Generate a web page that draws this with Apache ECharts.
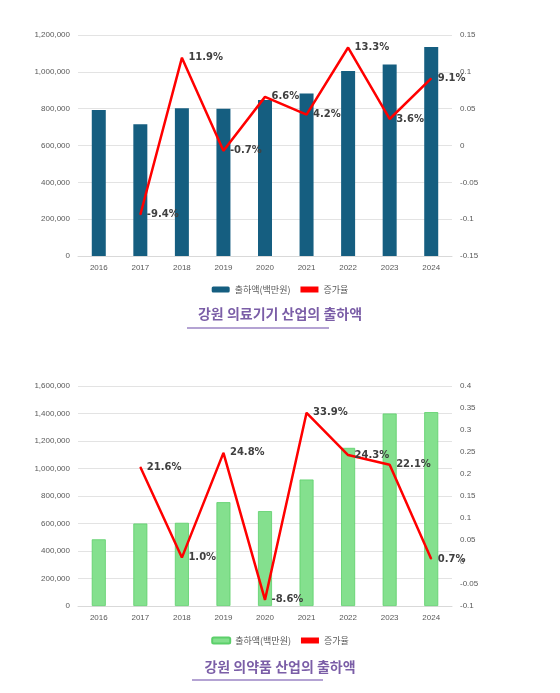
<!DOCTYPE html>
<html><head><meta charset="utf-8">
<script src="https://cdn.jsdelivr.net/npm/echarts@6/dist/echarts.min.js"></script>
<style>html,body{margin:0;padding:0;background:#fff}#c{width:560px;height:693px}</style>
</head><body><div id="c"></div>
<script>
const years = ['2016','2017','2018','2019','2020','2021','2022','2023','2024'];
const deviceSales = [793000,715000,802000,800000,847000,883000,1005000,1040000,1135000];
const deviceRate = [null,-0.094,0.119,-0.007,0.066,0.042,0.133,0.036,0.091];
const pharmaSales = [485000,600000,605000,755000,690000,920000,1150000,1400000,1410000];
const pharmaRate = [null,0.216,0.010,0.248,-0.086,0.339,0.243,0.221,0.007];
const legendNames = ['출하액(백만원)','증가율'];
const titles = ['강원 의료기기 산업의 출하액','강원 의약품 산업의 출하액'];

const font = 'Noto Sans CJK KR';
const axisLbl = {color:'#595959',fontSize:8,fontFamily:'Liberation Sans'};
const chart = echarts.init(document.getElementById('c'));
const lineLabel = {show:true,position:'right',distance:6,color:'#404040',fontWeight:'bold',fontSize:10,fontFamily:'DejaVu Sans',
  formatter:p=>(p.value*100).toFixed(1)+'%'};
const legendBase = {left:'center',itemWidth:18,itemHeight:6,itemGap:10,textStyle:{color:'#595959',fontSize:9}};
chart.setOption({
  animation:false,
  textStyle:{fontFamily:font},
  grid:[{left:78,right:108,top:35,height:221},{left:78,right:108,top:386,height:220}],
  legend:[
    Object.assign({top:280,data:[{name:'d_bar'},{name:'d_line',icon:'rect',itemStyle:{color:'#ff0000'}}],formatter:n=>n==='d_bar'?legendNames[0]:legendNames[1]},legendBase),
    Object.assign({top:631,data:[{name:'p_bar'},{name:'p_line',icon:'rect',itemStyle:{color:'#ff0000'}}],formatter:n=>n==='p_bar'?legendNames[0]:legendNames[1]},legendBase)
  ],
  xAxis:[0,1].map(i=>({type:'category',gridIndex:i,data:years,axisTick:{show:false},
    axisLine:{lineStyle:{color:'#d9d9d9'}},axisLabel:Object.assign({margin:8},axisLbl)})),
  yAxis:[
    {type:'value',gridIndex:0,min:0,max:1200000,interval:200000,axisLabel:Object.assign({formatter:v=>v.toLocaleString('en-US')},axisLbl),splitLine:{lineStyle:{color:'#e3e3e3'}}},
    {type:'value',gridIndex:0,min:-0.15,max:0.15,interval:0.05,axisLabel:Object.assign({formatter:v=>String(+v.toFixed(2))},axisLbl),splitLine:{show:false}},
    {type:'value',gridIndex:1,min:0,max:1600000,interval:200000,axisLabel:Object.assign({formatter:v=>v.toLocaleString('en-US')},axisLbl),splitLine:{lineStyle:{color:'#e3e3e3'}}},
    {type:'value',gridIndex:1,min:-0.1,max:0.4,interval:0.05,axisLabel:Object.assign({formatter:v=>String(+v.toFixed(2))},axisLbl),splitLine:{show:false}}
  ],
  series:[
    {name:'d_bar',type:'bar',xAxisIndex:0,yAxisIndex:0,data:deviceSales,barWidth:14,itemStyle:{color:'#155e80'}},
    {name:'d_line',type:'line',xAxisIndex:0,yAxisIndex:1,data:deviceRate,symbol:'circle',symbolSize:1,showAllSymbol:true,lineStyle:{color:'#ff0000',width:2.5},itemStyle:{color:'#ff0000'},label:lineLabel},
    {name:'p_bar',type:'bar',xAxisIndex:1,yAxisIndex:2,data:pharmaSales,barWidth:14,itemStyle:{color:'#84e08e',borderColor:'#5ccf6a',borderWidth:0.8}},
    {name:'p_line',type:'line',xAxisIndex:1,yAxisIndex:3,data:pharmaRate,symbol:'circle',symbolSize:1,showAllSymbol:true,lineStyle:{color:'#ff0000',width:2.5},itemStyle:{color:'#ff0000'},label:lineLabel}
  ],
  graphic:[
    {type:'text',left:'center',top:307,style:{text:titles[0],fill:'#7b5ea7',font:'600 14px "Noto Sans CJK KR"'}},
    {type:'line',shape:{x1:187,y1:328,x2:329,y2:328},style:{stroke:'#9b84c4',lineWidth:1.5}},
    {type:'text',left:'center',top:660,style:{text:titles[1],fill:'#7b5ea7',font:'600 14px "Noto Sans CJK KR"'}},
    {type:'line',shape:{x1:192,y1:680,x2:323,y2:680},style:{stroke:'#9b84c4',lineWidth:1.5}}
  ]
});
</script></body></html>
